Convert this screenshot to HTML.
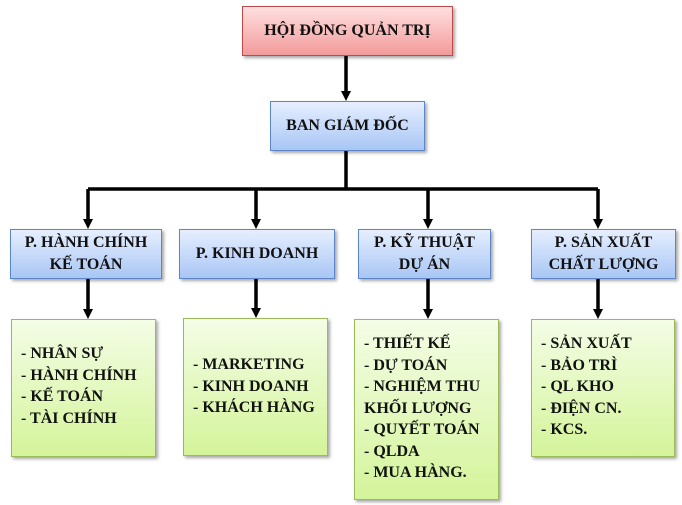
<!DOCTYPE html>
<html><head><meta charset="utf-8"><style>
body{margin:0;width:682px;height:505px;background:#fff;position:relative;overflow:hidden;font-family:"Liberation Serif",serif;font-weight:bold;color:#111;}
.b{position:absolute;box-sizing:border-box;box-shadow:2px 2px 3px rgba(0,0,0,0.35);}
.blue{background:linear-gradient(#e6efff,#a9c6f5);border:1px solid #5b86c8;display:flex;align-items:center;justify-content:center;text-align:center;font-size:16px;line-height:22px;}
.red{background:linear-gradient(#ffe0e0,#f29a9a);border:1px solid #c04a4a;display:flex;align-items:center;justify-content:center;font-size:16px;}
.g{background:linear-gradient(#f4fde6,#d4f49a);border:1px solid #9bbb59;font-size:16px;line-height:21.5px;}
.t{position:absolute;white-space:nowrap;}
</style></head><body>
<svg width="682" height="505" style="position:absolute;left:0;top:0">
<defs><marker id="a" markerWidth="10" markerHeight="10" refX="5" refY="5" orient="auto" markerUnits="userSpaceOnUse"><path d="M0,0 L10,5 L0,10 z" fill="#000"/></marker></defs>
<g stroke="#000" stroke-width="3.5" fill="none">
<line x1="346" y1="55" x2="346" y2="96" marker-end="url(#a)"/>
<line x1="346" y1="150" x2="346" y2="189"/>
<line x1="88" y1="189" x2="598" y2="189"/>
<line x1="88" y1="189" x2="88" y2="224" marker-end="url(#a)"/>
<line x1="256" y1="189" x2="256" y2="224" marker-end="url(#a)"/>
<line x1="428" y1="189" x2="428" y2="224" marker-end="url(#a)"/>
<line x1="598" y1="189" x2="598" y2="224" marker-end="url(#a)"/>
<line x1="88" y1="279" x2="88" y2="314" marker-end="url(#a)"/>
<line x1="256" y1="279" x2="256" y2="313" marker-end="url(#a)"/>
<line x1="428" y1="279" x2="428" y2="314" marker-end="url(#a)"/>
<line x1="598" y1="279" x2="598" y2="314" marker-end="url(#a)"/>
</g></svg>
<div class="b red" style="left:242px;top:6px;width:211px;height:50px">HỘI ĐỒNG QUẢN TRỊ</div>
<div class="b blue" style="left:270px;top:101px;width:155px;height:50px">BAN GIÁM ĐỐC</div>
<div class="b blue" style="left:10px;top:229px;width:152px;height:50px">P. HÀNH CHÍNH<br>KẾ TOÁN</div>
<div class="b blue" style="left:179px;top:229px;width:156px;height:50px">P. KINH DOANH</div>
<div class="b blue" style="left:358px;top:229px;width:133px;height:50px">P. KỸ THUẬT<br>DỰ ÁN</div>
<div class="b blue" style="left:531px;top:229px;width:145px;height:50px">P. SẢN XUẤT<br>CHẤT LƯỢNG</div>
<div class="b g" style="left:11px;top:319px;width:145px;height:138px"><div class="t" style="left:9px;top:23px">- NHÂN SỰ<br>- HÀNH CHÍNH<br>- KẾ TOÁN<br>- TÀI CHÍNH</div></div>
<div class="b g" style="left:183px;top:318px;width:145px;height:138px"><div class="t" style="left:9px;top:35px">- MARKETING<br>- KINH DOANH<br>- KHÁCH HÀNG</div></div>
<div class="b g" style="left:354px;top:319px;width:145px;height:181px"><div class="t" style="left:9px;top:13px">- THIẾT KẾ<br>- DỰ TOÁN<br>- NGHIỆM THU<br>KHỐI LƯỢNG<br>- QUYẾT TOÁN<br>- QLDA<br>- MUA HÀNG.</div></div>
<div class="b g" style="left:531px;top:319px;width:144px;height:138px"><div class="t" style="left:9px;top:13px">- SẢN XUẤT<br>- BẢO TRÌ<br>- QL KHO<br>- ĐIỆN CN.<br>- KCS.</div></div>
</body></html>
